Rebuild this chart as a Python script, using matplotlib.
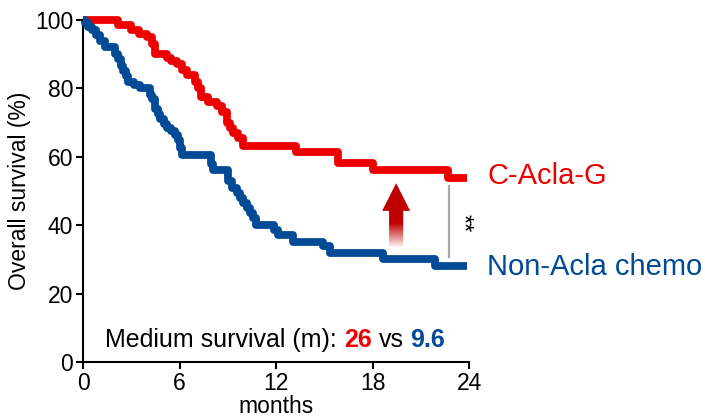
import numpy as np
import matplotlib
matplotlib.use("Agg")
import matplotlib.pyplot as plt
from matplotlib.patches import Polygon

plt.rcParams['font.family'] = ['Liberation Sans', 'DejaVu Sans']

# ---- data (Kaplan-Meier step curves, months vs % survival) ----
red_t = [0, 2.2, 3.0, 3.5, 4.0, 4.3, 4.5, 5.2, 5.5, 5.85, 6.15, 6.45, 6.95, 7.15, 7.35,
         7.8, 8.35, 8.65, 8.95, 9.15, 9.35, 9.65, 9.95, 13.25, 15.85, 18.0, 22.7, 23.9]
red_s = [100, 98.5, 97, 96, 95, 93, 90, 89, 88, 87, 85.5, 84, 82, 80, 77.5,
         76, 75, 73, 70, 68.5, 67, 65.5, 63.2, 61.4, 58.2, 56.1, 53.8, 53.8]

blue_t = [0, 0.1, 0.3, 0.55, 0.8, 1.05, 1.35, 2.0, 2.2, 2.35, 2.5, 2.65, 2.8, 3.2, 3.55,
          4.15, 4.3, 4.5, 4.65, 4.8, 5.05, 5.2, 5.5, 5.7, 5.9, 6.0, 6.15, 7.95, 8.1,
          9.0, 9.25, 9.55, 9.75, 9.95, 10.2, 10.4, 10.55, 10.75, 11.9, 12.1, 13.05,
          14.9, 15.35, 18.65, 21.9, 23.9]
blue_s = [100, 99, 98, 97, 95.5, 94, 92, 90, 88.5, 86.5, 85, 83.5, 82, 81, 80,
          78, 77, 74, 72.5, 71, 69.5, 68.5, 67.5, 66.5, 65, 62.5, 60.5, 58, 56,
          53, 51, 49.5, 48, 46.5, 45, 43.5, 42, 40.2, 38.5, 37.1, 35,
          34, 32, 30, 28, 28]

x_ticks = [0, 6, 12, 18, 24]
y_ticks = [0, 20, 40, 60, 80, 100]
red_label = "C-Acla-G"
blue_label = "Non-Acla chemo"
median_red = "26"
median_blue = "9.6"

RED = '#ee0000'
BLUE = '#004a96'
ARROW = '#c00000'

fig = plt.figure(figsize=(7.05, 4.19), dpi=100)
ax = fig.add_axes([83/705, 57/419, 386/705, 342/419])

ax.step(red_t, red_s, where='post', color=RED, lw=5.6, solid_capstyle='butt',
        solid_joinstyle='round', clip_on=False, zorder=3)
ax.step(blue_t, blue_s, where='post', color=BLUE, lw=5.6, solid_capstyle='butt',
        solid_joinstyle='round', clip_on=False, zorder=4)

ax.set_xlim(0, 24)
ax.set_ylim(0, 100)
ax.set_xticks(x_ticks)
ax.set_yticks(y_ticks)
for s in ['top', 'right']:
    ax.spines[s].set_visible(False)
for s in ['left', 'bottom']:
    ax.spines[s].set_linewidth(1.5)
ax.tick_params(direction='out', length=5, width=1.5, labelsize=16.5, pad=2)
ax.set_ylabel("Overall survival (%)", fontsize=16.5, labelpad=3)
ax.set_xlabel("months", fontsize=16.5, labelpad=0)

# series labels
ax.text(25.12, 52.0, red_label, color=RED, fontsize=21, va='baseline', ha='left', clip_on=False)
ax.text(25.12, 25.4, blue_label, color=BLUE, fontsize=21, va='baseline', ha='left', clip_on=False)

# significance bar
ax.plot([22.76, 22.76], [30.7, 51.5], color='#a8a8a8', lw=1.6, zorder=2)
ax.text(23.6, 40.5, "**", fontsize=17, rotation=270, ha='center', va='center')

# gradient arrow
xc, tip, hb, bot = 19.47, 52.3, 44.2, 33.6
hw, sw = 0.87, 0.44
poly = Polygon([(xc - sw, bot), (xc - sw, hb), (xc - hw, hb), (xc, tip),
                (xc + hw, hb), (xc + sw, hb), (xc + sw, bot)], closed=True,
               transform=ax.transData, facecolor='none', edgecolor='none')
ax.add_patch(poly)
ny = 200
ys = np.linspace(bot, tip, ny)
alpha = np.clip((ys - bot) / (40.6 - bot), 0, 1) * 0.95 + 0.05
alpha = np.clip(alpha, 0, 1)
rgba = np.zeros((ny, 2, 4))
c = matplotlib.colors.to_rgb(ARROW)
rgba[..., 0], rgba[..., 1], rgba[..., 2] = c
rgba[..., 3] = alpha[:, None]
im = ax.imshow(rgba, extent=(xc - hw, xc + hw, bot, tip), origin='lower',
               aspect='auto', zorder=2, interpolation='bilinear')
im.set_clip_path(poly)
ax.set_xlim(0, 24)
ax.set_ylim(0, 100)

# median survival text with mixed colours
fig.canvas.draw()
r = fig.canvas.get_renderer()
y0 = 4.4
fs = 18
t1 = ax.text(1.37, y0, "Medium survival (m):", fontsize=fs, va='baseline', ha='left')
def right_edge(t, gap_px):
    bb = t.get_window_extent(renderer=r)
    return ax.transData.inverted().transform((bb.x1 + gap_px, bb.y0))[0]
x2 = right_edge(t1, 7)
t2 = ax.text(x2, y0, median_red, fontsize=fs, va='baseline', ha='left', color=RED,
             fontweight='bold')
x3 = right_edge(t2, 7)
t3 = ax.text(x3, y0, "vs", fontsize=fs, va='baseline', ha='left')
x4 = right_edge(t3, 7)
t4 = ax.text(x4, y0, median_blue, fontsize=fs, va='baseline', ha='left', color=BLUE,
             fontweight='bold')

fig.savefig("out.png", dpi=100)
